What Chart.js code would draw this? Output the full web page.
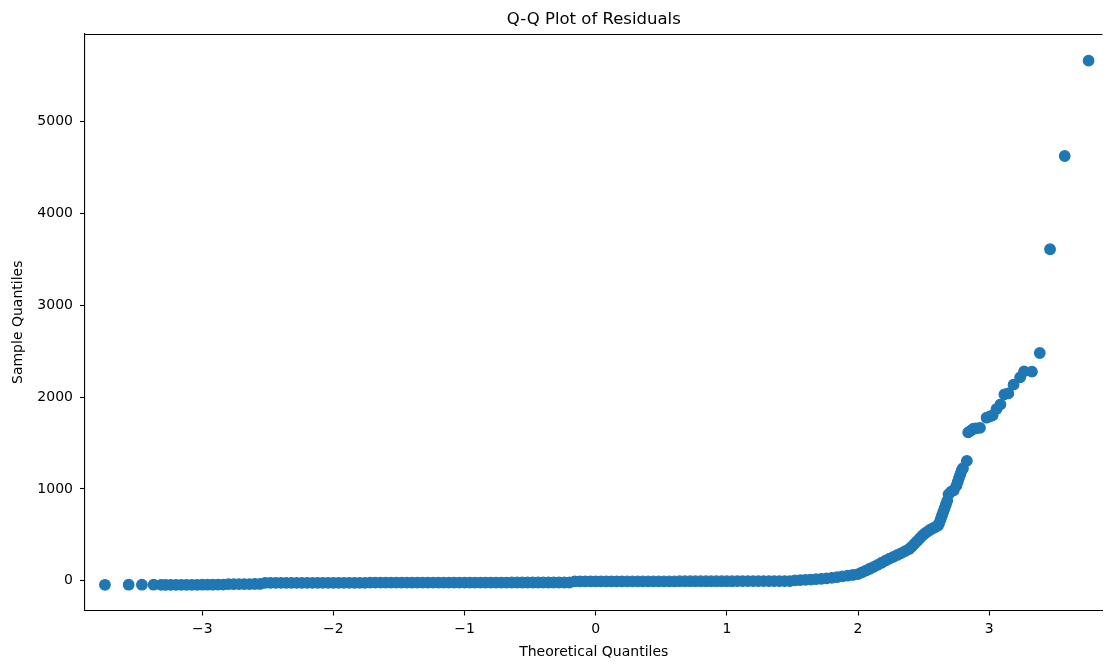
<!DOCTYPE html>
<html>
<head>
<meta charset="utf-8">
<script src="https://cdn.jsdelivr.net/npm/chart.js@4.4.0/dist/chart.umd.min.js"></script>
<style>
  html, body { margin: 0; padding: 0; background: #fff; overflow: hidden; }
  #wrap { position: fixed; left: 0; top: 0; width: 100vw; height: 100vh; }
</style>
</head>
<body>
<div id="wrap"><canvas id="qqChart"></canvas></div>
<script>
// Theoretical quantiles (x) and sample quantiles (y) of the residuals
const lowTailX = [-3.742, -3.561, -3.46, -3.371, -3.313];
const lowTailY = [-45, -44, -44, -44, -45];

const bodyX = [
  -3.28, -3.24, -3.20, -3.16, -3.12, -3.08, -3.04, -3.00, -2.96, -2.92, -2.88, -2.84,
  -2.80, -2.76, -2.72, -2.68, -2.64, -2.60, -2.56,
  -2.52, -2.48, -2.44, -2.40, -2.36, -2.32, -2.28, -2.24, -2.20, -2.16,
  -2.12, -2.08, -2.04, -2.00, -1.96, -1.92, -1.88, -1.84, -1.80, -1.76,
  -1.72, -1.68, -1.64, -1.60, -1.56, -1.52, -1.48, -1.44, -1.40, -1.36,
  -1.32, -1.28, -1.24, -1.20, -1.16, -1.12, -1.08, -1.04, -1.00, -0.96,
  -0.92, -0.88, -0.84, -0.80, -0.76, -0.72, -0.68, -0.64, -0.60, -0.56,
  -0.52, -0.48, -0.44, -0.40, -0.36, -0.32, -0.28, -0.24, -0.20,
  -0.16, -0.12, -0.08, -0.04, 0.00, 0.04, 0.08, 0.12, 0.16, 0.20,
  0.24, 0.28, 0.32, 0.36, 0.40, 0.44, 0.48, 0.52, 0.56, 0.60,
  0.64, 0.68, 0.72, 0.76, 0.80, 0.84, 0.88, 0.92, 0.96, 1.00,
  1.04, 1.08, 1.12, 1.16, 1.20, 1.24, 1.28, 1.32, 1.36, 1.40,
  1.44, 1.48
];
const bodyY = [
  -46, -46, -46, -45, -45, -45, -45, -44, -44, -44, -43, -43,
  -38, -38, -37, -37, -37, -36, -36,
  -24, -24, -24, -24, -24, -24, -24, -24, -24, -24,
  -23, -23, -23, -23, -23, -23, -23, -23, -23, -23,
  -22, -22, -22, -22, -22, -22, -22, -22, -22, -22,
  -22, -22, -22, -22, -22, -21, -21, -21, -21, -21,
  -21, -21, -21, -21, -21, -21, -21, -20, -20, -20,
  -20, -20, -20, -20, -20, -20, -20, -20, -20,
  -8, -8, -8, -8, -8, -8, -8, -8, -8, -8,
  -7, -7, -7, -7, -7, -7, -7, -7, -7, -7,
  -6, -6, -6, -6, -6, -6, -6, -6, -6, -6,
  -6, -5, -5, -5, -5, -5, -5, -5, -5, -5,
  -5, -5
];

const upperTailX = [
  1.52, 1.56, 1.60, 1.64, 1.68, 1.72, 1.76, 1.80, 1.84, 1.88,
  1.92, 1.96, 2.00, 2.03, 2.06, 2.09, 2.12, 2.15, 2.18, 2.21,
  2.24, 2.27, 2.30, 2.33, 2.36, 2.39, 2.41, 2.43, 2.45, 2.47,
  2.49, 2.51, 2.53, 2.55, 2.57, 2.59, 2.61, 2.62, 2.63, 2.64,
  2.65, 2.66, 2.67, 2.68, 2.69, 2.71, 2.73, 2.75, 2.76, 2.77,
  2.78, 2.79, 2.80, 2.83, 2.84, 2.86, 2.88, 2.90, 2.93, 2.98,
  3.006, 3.026, 3.056, 3.086, 3.116, 3.146, 3.186, 3.236, 3.266, 3.326,
  3.386, 3.464, 3.576, 3.758
];
const upperTailY = [
  4, 6, 9, 12, 16, 20, 25, 31, 38, 46,
  54, 62, 72, 90, 110, 130, 150, 172, 195, 218,
  240, 260, 280, 300, 322, 345, 370, 400, 430, 460,
  490, 515, 535, 555, 570, 585, 600, 630, 670, 710,
  750, 790, 830, 870, 940, 970, 985, 1035, 1075, 1120,
  1160, 1200, 1225, 1305, 1615, 1635, 1655, 1660, 1665, 1775,
  1790, 1800, 1870, 1920, 2030, 2040, 2135, 2215, 2280, 2277,
  2480, 3610, 4626, 5665
];

const xTicks = [-3, -2, -1, 0, 1, 2, 3];
const yTicks = [0, 1000, 2000, 3000, 4000, 5000];

const allX = lowTailX.concat(bodyX, upperTailX);
const allY = lowTailY.concat(bodyY, upperTailY);
const points = allX.map((x, i) => ({ x: x, y: allY[i] }));

const ink = '#000';
Chart.defaults.font.family = "'DejaVu Sans', sans-serif";
Chart.defaults.color = ink;

// matplotlib-style minus sign on negative ticks
const fmt = v => (v < 0 ? '\u2212' + Math.abs(v) : String(v));

// top spine (Chart.js only draws the axis borders); the right one falls off the canvas
const topSpine = {
  id: 'topSpine',
  afterDraw(chart) {
    const { ctx, chartArea } = chart;
    ctx.save();
    ctx.strokeStyle = ink;
    ctx.lineWidth = 1.1;
    ctx.beginPath();
    ctx.moveTo(chartArea.left, Math.round(chartArea.top) + 0.5);
    ctx.lineTo(chartArea.right, Math.round(chartArea.top) + 0.5);
    ctx.stroke();
    ctx.restore();
  }
};

new Chart(document.getElementById('qqChart'), {
  type: 'scatter',
  data: {
    datasets: [{
      data: points,
      backgroundColor: '#1f77b4',
      borderColor: '#1f77b4',
      borderWidth: 1.2,
      pointRadius: 5.3,
      pointHoverRadius: 5.3
    }]
  },
  plugins: [topSpine],
  options: {
    responsive: true,
    maintainAspectRatio: false,
    animation: false,
    events: [],
    layout: { padding: 0 },
    plugins: {
      legend: { display: false },
      tooltip: { enabled: false },
      title: {
        display: true,
        text: 'Q-Q Plot of Residuals',
        fullSize: false,
        color: ink,
        font: { size: 16.5, weight: 'normal' },
        padding: { top: 10, bottom: 4.2 }
      }
    },
    scales: {
      x: {
        type: 'linear',
        min: -3.894,
        max: 3.864,
        afterBuildTicks: s => { s.ticks = xTicks.map(v => ({ value: v })); },
        afterFit: s => { s.height = 53.5; s.paddingLeft = 0; s.paddingRight = 0; },
        ticks: { callback: fmt, color: ink, font: { size: 14 }, padding: 5, maxRotation: 0, autoSkip: false },
        grid: { drawOnChartArea: false, tickLength: 5, tickColor: ink, tickWidth: 1.1 },
        border: { color: ink, width: 1.1 },
        title: { display: true, text: 'Theoretical Quantiles', color: ink, font: { size: 14 }, padding: { top: 0, bottom: 3.5 } }
      },
      y: {
        type: 'linear',
        min: -325,
        max: 5955,
        afterBuildTicks: s => { s.ticks = yTicks.map(v => ({ value: v })); },
        afterFit: s => { s.width = 85; s.paddingTop = 0; s.paddingBottom = 0; },
        ticks: { callback: fmt, color: ink, font: { size: 14 }, padding: 7, autoSkip: false },
        grid: { drawOnChartArea: false, tickLength: 5, tickColor: ink, tickWidth: 1.1 },
        border: { color: ink, width: 1.1 },
        title: { display: true, text: 'Sample Quantiles', color: ink, font: { size: 14 }, padding: { top: 10, bottom: 0 } }
      }
    }
  }
});
</script>
</body>
</html>
